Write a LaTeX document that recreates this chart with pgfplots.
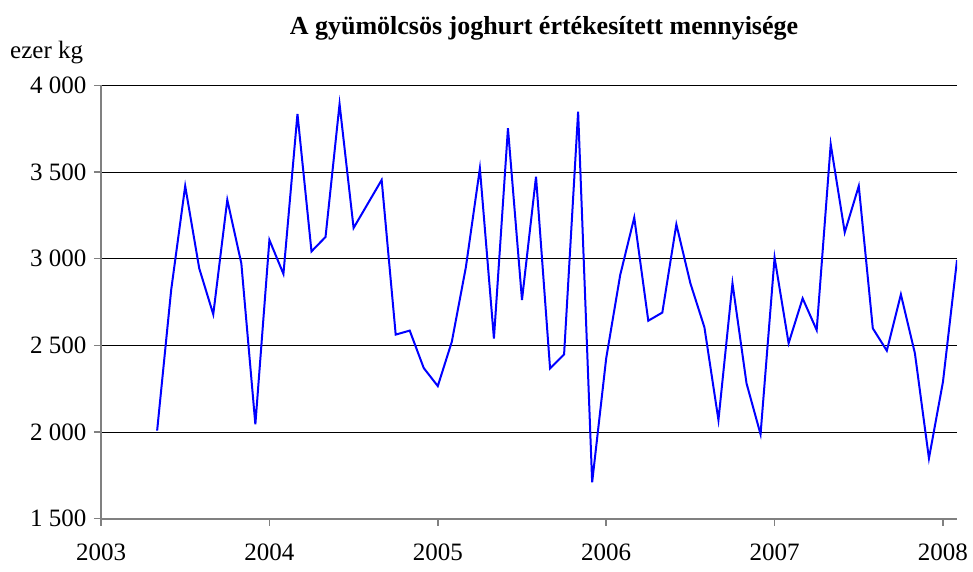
\documentclass[border=0pt]{standalone}
\usepackage{fontspec}
\setmainfont{Liberation Serif}
\usepackage{pgfplots}
\pgfplotsset{compat=1.18}

% havi adatok, x = hónap 2003 januártól számolva
\pgfplotstableread{
m    v
4    2008
5    2819
6    3419
7    2944
8    2679
9    3339
10   2973
11   2044
12   3108
13   2912
14   3835
15   3042
16   3125
17   3892
18   3177
20   3454
21   2562
22   2585
23   2369
24   2265
25   2521
26   2950
27   3521
28   2539
29   3752
30   2762
31   3473
32   2367
33   2448
34   3848
35   1710
36   2425
37   2906
38   3237
39   2642
40   2689
41   3198
42   2858
43   2604
44   2069
45   2858
46   2281
47   1987
48   3006
49   2512
50   2771
51   2588
52   3660
53   3152
54   3419
55   2598
56   2469
57   2794
58   2454
59   1848
60   2290
61   2992
}\joghurt

\begin{document}
\begin{tikzpicture}
\useasboundingbox (0,0) rectangle (973pt,571pt);
\begin{axis}[
  at={(101pt,52.3pt)}, anchor=south west,
  scale only axis, width=856pt, height=433.4pt,
  xmin=0, xmax=61, ymin=1500, ymax=4000,
  axis x line*=bottom, axis y line*=left,
  axis line style={-, draw=gray, line width=2pt},
  xtick={0,12,...,60},
  xticklabels={2003,2004,2005,2006,2007,2008},
  ytick={1500,2000,...,4000},
  yticklabels={1 500,2 000,2 500,3 000,3 500,4 000},
  tick align=outside, major tick length=7pt,
  tick style={draw=gray, line width=1.5pt},
  tick label style={font=\fontsize{25}{30}\selectfont},
  xticklabel style={yshift=-15pt},
  yticklabel style={xshift=-4pt},
  ymajorgrids, grid style={black, line width=0.9pt},
]
\addplot[blue, line width=2pt, mark=none] table[x=m, y=v] {\joghurt};
\end{axis}
\node[anchor=base, font=\fontsize{26}{30}\selectfont\bfseries] at (544pt,536pt)
  {A gyümölcsös joghurt értékesített mennyisége};
\node[anchor=base west, inner sep=0pt, font=\fontsize{25}{30}\selectfont] at (10pt,512.7pt) {ezer kg};
\end{tikzpicture}
\end{document}
